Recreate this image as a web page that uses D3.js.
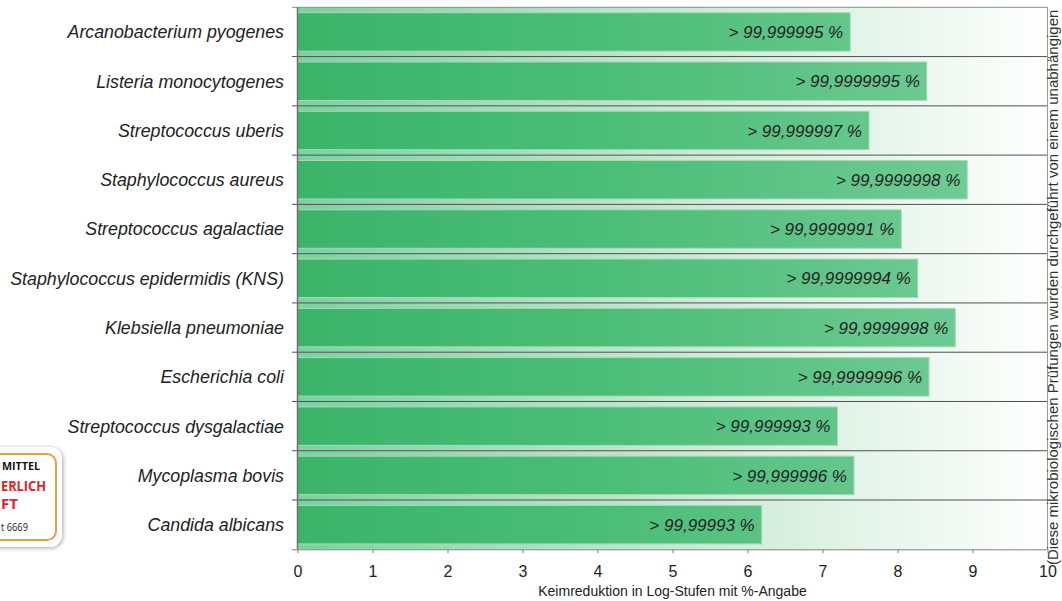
<!DOCTYPE html>
<html>
<head>
  <meta charset="utf-8">
  <title>Keimreduktion</title>
  <script src="https://d3js.org/d3.v7.min.js"></script>
  <style>
    body { margin: 0; background: #fff; }
    svg { display: block; font-family: "Liberation Sans", Arial, sans-serif; }
  </style>
</head>
<body>

<div id="chart"></div>

<script>
// Data
const categories = [
  "Arcanobacterium pyogenes",
  "Listeria monocytogenes",
  "Streptococcus uberis",
  "Staphylococcus aureus",
  "Streptococcus agalactiae",
  "Staphylococcus epidermidis (KNS)",
  "Klebsiella pneumoniae",
  "Escherichia coli",
  "Streptococcus dysgalactiae",
  "Mycoplasma bovis",
  "Candida albicans"
];
const logValues = [7.37, 8.39, 7.62, 8.93, 8.05, 8.27, 8.77, 8.42, 7.2, 7.42, 6.19];
const percentLabels = [
  "> 99,999995 %",
  "> 99,9999995 %",
  "> 99,999997 %",
  "> 99,9999998 %",
  "> 99,9999991 %",
  "> 99,9999994 %",
  "> 99,9999998 %",
  "> 99,9999996 %",
  "> 99,999993 %",
  "> 99,999996 %",
  "> 99,99993 %"
];
const xTicks = [0, 1, 2, 3, 4, 5, 6, 7, 8, 9, 10];

const width = 1062;
const height = 601;

const svg = d3.select("#chart")
  .append("svg")
  .attr("width", width)
  .attr("height", height);

const x = d3.scaleLinear().domain([0, 10]).range([297.5, 1047.5]);
const y = d3.scaleBand().domain(categories).range([7.3, 549.3]).padding(0);

const defs = svg.append("defs");

const bgGrad = defs.append("linearGradient")
  .attr("id", "bgGrad")
  .attr("gradientUnits", "userSpaceOnUse")
  .attr("x1", x(0)).attr("x2", x(10)).attr("y1", 0).attr("y2", 0);
bgGrad.append("stop").attr("offset", "0%").attr("stop-color", "#7bd19f");
bgGrad.append("stop").attr("offset", "55%").attr("stop-color", "#cdebd7");
bgGrad.append("stop").attr("offset", "100%").attr("stop-color", "#ffffff");

const barGrad = defs.append("linearGradient")
  .attr("id", "barGrad")
  .attr("gradientUnits", "userSpaceOnUse")
  .attr("x1", x(0)).attr("x2", x(10)).attr("y1", 0).attr("y2", 0);
barGrad.append("stop").attr("offset", "0%").attr("stop-color", "#3bb46a");
barGrad.append("stop").attr("offset", "40%").attr("stop-color", "#4abd76");
barGrad.append("stop").attr("offset", "100%").attr("stop-color", "#78cd9b");

const shadow = defs.append("filter").attr("id", "shadow")
  .attr("x", "-20%").attr("y", "-20%").attr("width", "140%").attr("height", "140%");
shadow.append("feDropShadow")
  .attr("dx", 1).attr("dy", 1).attr("stdDeviation", 2)
  .attr("flood-color", "#000").attr("flood-opacity", 0.35);

// row backgrounds
svg.append("g")
  .selectAll("rect")
  .data(categories)
  .join("rect")
  .attr("x", x(0))
  .attr("y", d => y(d))
  .attr("width", x(10) - x(0))
  .attr("height", y.bandwidth())
  .attr("fill", "url(#bgGrad)");

// bars
const inset = 5.4;
svg.append("g")
  .selectAll("rect")
  .data(logValues)
  .join("rect")
  .attr("x", x(0))
  .attr("y", (d, i) => y(categories[i]) + inset)
  .attr("width", d => x(d) - x(0))
  .attr("height", y.bandwidth() - 2 * inset)
  .attr("fill", "url(#barGrad)")
  .attr("stroke", "#a6dab8")
  .attr("stroke-width", 1);

// value labels
svg.append("g")
  .selectAll("text")
  .data(percentLabels)
  .join("text")
  .attr("x", (d, i) => x(logValues[i]) - 7)
  .attr("y", (d, i) => y(categories[i]) + y.bandwidth() / 2)
  .attr("dy", "0.36em")
  .attr("text-anchor", "end")
  .attr("font-size", 17)
  .attr("font-style", "italic")
  .attr("fill", "#222")
  .text(d => d);

// row separators and frame
const bounds = categories.map(c => y(c)).concat([y.range()[1]]);
svg.append("g")
  .selectAll("line")
  .data(bounds.slice(1, -1))
  .join("line")
  .attr("x1", 292).attr("x2", x(10))
  .attr("y1", d => d).attr("y2", d => d)
  .attr("stroke", "#505050")
  .attr("stroke-width", 1);

svg.append("line")
  .attr("x1", x(0)).attr("x2", x(10))
  .attr("y1", bounds[0]).attr("y2", bounds[0])
  .attr("stroke", "#8a8a8a");
svg.append("line")
  .attr("x1", 292).attr("x2", x(0))
  .attr("y1", bounds[0]).attr("y2", bounds[0])
  .attr("stroke", "#8a8a8a");
svg.append("line")
  .attr("x1", x(10)).attr("x2", x(10))
  .attr("y1", bounds[0]).attr("y2", y.range()[1])
  .attr("stroke", "#9a9a9a");
svg.append("line")
  .attr("x1", x(0)).attr("x2", x(0))
  .attr("y1", bounds[0]).attr("y2", y.range()[1])
  .attr("stroke", "#707070")
  .attr("stroke-width", 1.5);

// category labels
svg.append("g")
  .selectAll("text")
  .data(categories)
  .join("text")
  .attr("x", 284)
  .attr("y", d => y(d) + y.bandwidth() / 2)
  .attr("dy", "0.36em")
  .attr("text-anchor", "end")
  .attr("font-size", 17.8)
  .attr("font-style", "italic")
  .attr("fill", "#222")
  .text(d => d);

// x axis
const xAxis = svg.append("g")
  .attr("transform", `translate(0,${y.range()[1]})`)
  .call(d3.axisBottom(x).tickValues(xTicks).tickSize(4).tickPadding(12).tickSizeOuter(0));
xAxis.select(".domain").attr("stroke", "#808080").attr("d", `M292,0.5H${x(10)}`);
xAxis.selectAll(".tick line").attr("stroke", "#808080");
xAxis.selectAll(".tick text")
  .attr("font-size", 16)
  .attr("font-family", "Liberation Sans, Arial, sans-serif")
  .attr("fill", "#222");

svg.append("text")
  .attr("x", (x(0) + x(10)) / 2)
  .attr("y", 596)
  .attr("text-anchor", "middle")
  .attr("font-size", 14)
  .attr("fill", "#222")
  .text("Keimreduktion in Log-Stufen mit %-Angabe");

// vertical note on the right
svg.append("text")
  .attr("transform", "translate(1058,565) rotate(-90)")
  .attr("font-size", 15)
  .attr("fill", "#333")
  .text("(Diese mikrobiologischen Prüfungen wurden durchgeführt von einem unabhängigen");

// cut-off badge at lower left
const badge = svg.append("g");
badge.append("rect")
  .attr("x", -120).attr("y", 447)
  .attr("width", 182).attr("height", 100)
  .attr("rx", 12)
  .attr("fill", "#fff")
  .attr("filter", "url(#shadow)");
badge.append("rect")
  .attr("x", -114).attr("y", 454)
  .attr("width", 170).attr("height", 86)
  .attr("rx", 9)
  .attr("fill", "none")
  .attr("stroke", "#dca246")
  .attr("stroke-width", 2);
badge.append("text")
  .attr("x", 2).attr("y", 470)
  .attr("font-family", "Open Sans, sans-serif")
  .attr("font-weight", "bold")
  .attr("font-size", 10)
  .attr("textLength", 38)
  .attr("lengthAdjust", "spacingAndGlyphs")
  .attr("fill", "#111")
  .text("MITTEL");
badge.append("text")
  .attr("x", 1).attr("y", 491)
  .attr("font-family", "Open Sans, sans-serif")
  .attr("font-weight", "bold")
  .attr("font-size", 14)
  .attr("textLength", 45)
  .attr("lengthAdjust", "spacingAndGlyphs")
  .attr("fill", "#e2232a")
  .text("ERLICH");
badge.append("text")
  .attr("x", 1).attr("y", 509)
  .attr("font-family", "Open Sans, sans-serif")
  .attr("font-weight", "bold")
  .attr("font-size", 14)
  .attr("textLength", 17)
  .attr("lengthAdjust", "spacingAndGlyphs")
  .attr("fill", "#e2232a")
  .text("FT");
badge.append("text")
  .attr("x", 1).attr("y", 531)
  .attr("font-family", "Open Sans, sans-serif")
  .attr("font-size", 10.5)
  .attr("textLength", 27)
  .attr("lengthAdjust", "spacingAndGlyphs")
  .attr("fill", "#222")
  .text("t 6669");
</script>

</body>
</html>
